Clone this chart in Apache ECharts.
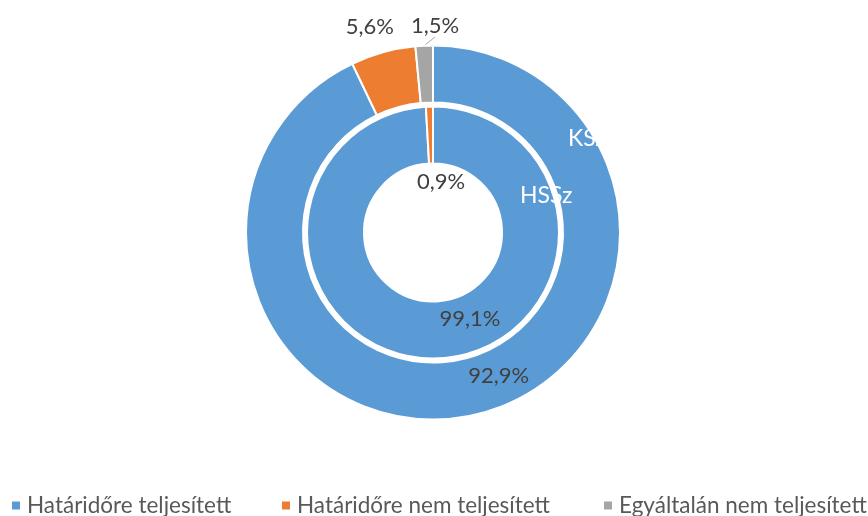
<!DOCTYPE html>
<html>
<head>
<meta charset="utf-8">
<script src="https://cdn.jsdelivr.net/npm/echarts@6/dist/echarts.min.js"></script>
<style>html,body{margin:0;padding:0;background:#fff}#c{width:868px;height:516px}</style>
</head>
<body>
<div id="c"></div>
<script>
const categories = ['Határidőre teljesített', 'Határidőre nem teljesített', 'Egyáltalán nem teljesített'];
const seriesNames = ['KSz', 'HSSz'];
const outerValues = [92.9, 5.6, 1.5];   // KSz
const innerValues = [99.1, 0.9, 0];     // HSSz
const colors = ['#5B9BD5', '#ED7D31', '#A5A5A5'];

const FONT = 'Lato';
const outerOffsets = [[30, -14], [-20, -50], null];
const innerOffsets = [[34, -14], [11, 50], [0, 0]];

function fmt(p) { return p.value.toFixed(1).replace('.', ',') + '%'; }

const chart = echarts.init(document.getElementById('c'), null, { renderer: 'canvas' });
const legendLefts = [10, 280, 602];
chart.setOption({
  animation: false,
  color: colors,
  legend: categories.map((name, i) => ({
    data: [name],
    left: legendLefts[i],
    top: 494,
    padding: 0,
    icon: 'rect',
    itemWidth: 10,
    itemHeight: 10,
    textStyle: { fontFamily: FONT, fontSize: 22.5, color: '#595959', padding: [0, 0, 0, 1] },
    selectedMode: false
  })),
  series: [
    {
      name: seriesNames[0],
      type: 'pie',
      center: [433, 232.5],
      radius: [130, 187],
      startAngle: 90,
      clockwise: true,
      itemStyle: { borderColor: '#fff', borderWidth: 2 },
      label: { show: true, position: 'inside', formatter: fmt, fontFamily: FONT, fontSize: 22, color: '#404040' },
      labelLine: { show: false },
      labelLayout: p => outerOffsets[p.dataIndex]
        ? ({ dx: outerOffsets[p.dataIndex][0], dy: outerOffsets[p.dataIndex][1] })
        : ({ x: 435, y: 26, align: 'center', verticalAlign: 'middle' }),
      emphasis: { disabled: true },
      data: categories.map((n, i) => (i === 2
        ? { name: n, value: outerValues[i],
            label: { position: 'outside' },
            labelLine: { show: true, length: 6, length2: 0, lineStyle: { color: '#A5A5A5', width: 1 } } }
        : { name: n, value: outerValues[i] }))
    },
    {
      name: seriesNames[1],
      type: 'pie',
      center: [433, 232.5],
      radius: [69, 126],
      startAngle: 90,
      clockwise: true,
      itemStyle: { borderColor: '#fff', borderWidth: 2 },
      label: { show: true, position: 'inside', formatter: fmt, fontFamily: FONT, fontSize: 22, color: '#404040' },
      labelLine: { show: false },
      labelLayout: p => ({ dx: innerOffsets[p.dataIndex][0], dy: innerOffsets[p.dataIndex][1] }),
      emphasis: { disabled: true },
      data: categories.map((n, i) => ({ name: n, value: innerValues[i], label: { show: innerValues[i] > 0 } }))
    }
  ],
  graphic: [
    { type: 'text', z: 100, left: 568, top: 127, style: { text: seriesNames[0], fill: '#fff', font: '23px Lato' } },
    { type: 'text', z: 100, left: 520, top: 184, style: { text: seriesNames[1], fill: '#fff', font: '23px Lato' } }
  ]
});
</script>
</body>
</html>
